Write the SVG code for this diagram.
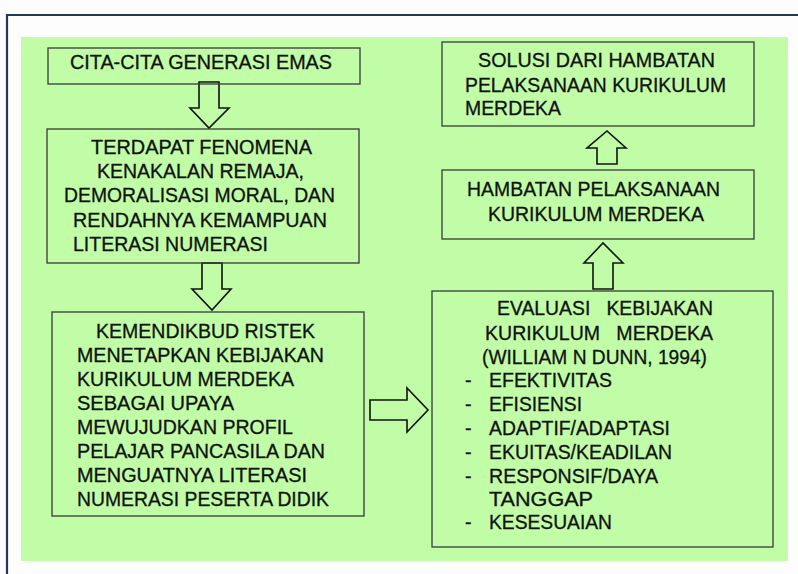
<svg xmlns="http://www.w3.org/2000/svg" width="798" height="574" viewBox="0 0 798 574">
<style>
.box{fill:none;stroke:#3a3a3a;stroke-width:1.3}
.arr{fill:#c1fda6;stroke:#111;stroke-width:1.6;stroke-linejoin:miter}
text{font-family:"Liberation Sans",Arial,sans-serif;font-size:19.5px;fill:#111;stroke:#111;stroke-width:0.3}
</style>
<rect x="0" y="0" width="798" height="574" fill="#fdfdfd"/>
<path d="M7,574 V15 H798" fill="none" stroke="#24395a" stroke-width="2.2"/>
<rect x="21" y="37" width="767" height="524" fill="#c1fda6"/>
<g id="connectors">
<path class="arr" d="M199,82 H219 V108 H229 L209,128 L190,108 H199 Z"/>
<path class="arr" d="M202,263 H222 V289 H231 L212,310 L192,289 H202 Z"/>
<path class="arr" d="M370,400 H407 V388 L428,410 L407,432 V420 H370 Z"/>
<path class="arr" d="M597,164 V148 H587 L607,131 L626,148 H617 V164 Z"/>
<path class="arr" d="M593,289 V263 H584 L603,243 L623,263 H613 V289 Z"/>
</g>
<g id="n1">
<rect class="box" x="48" y="48" width="312" height="36"/>
<text x="70" y="69" textLength="262" lengthAdjust="spacingAndGlyphs">CITA-CITA GENERASI EMAS</text>
</g>
<g id="n2">
<rect class="box" x="47" y="129" width="312" height="134"/>
<text x="91" y="154" textLength="221" lengthAdjust="spacingAndGlyphs">TERDAPAT FENOMENA</text>
<text x="97" y="178" textLength="207" lengthAdjust="spacingAndGlyphs">KENAKALAN REMAJA,</text>
<text x="64" y="202" textLength="271" lengthAdjust="spacingAndGlyphs">DEMORALISASI MORAL, DAN</text>
<text x="73" y="227" textLength="254" lengthAdjust="spacingAndGlyphs">RENDAHNYA KEMAMPUAN</text>
<text x="73" y="251" textLength="195" lengthAdjust="spacingAndGlyphs">LITERASI NUMERASI</text>
</g>
<g id="n3">
<rect class="box" x="52" y="312" width="312" height="204"/>
<text x="96" y="338" textLength="219" lengthAdjust="spacingAndGlyphs">KEMENDIKBUD RISTEK</text>
<text x="77" y="362" textLength="247" lengthAdjust="spacingAndGlyphs">MENETAPKAN KEBIJAKAN</text>
<text x="77" y="386" textLength="217" lengthAdjust="spacingAndGlyphs">KURIKULUM MERDEKA</text>
<text x="77" y="410" textLength="157" lengthAdjust="spacingAndGlyphs">SEBAGAI UPAYA</text>
<text x="77" y="434" textLength="216" lengthAdjust="spacingAndGlyphs">MEWUJUDKAN PROFIL</text>
<text x="77" y="458" textLength="248" lengthAdjust="spacingAndGlyphs">PELAJAR PANCASILA DAN</text>
<text x="77" y="482" textLength="230" lengthAdjust="spacingAndGlyphs">MENGUATNYA LITERASI</text>
<text x="77" y="506" textLength="252" lengthAdjust="spacingAndGlyphs">NUMERASI PESERTA DIDIK</text>
</g>
<g id="n4">
<rect class="box" x="432" y="291" width="341" height="256"/>
<text x="497" y="315" textLength="216" lengthAdjust="spacingAndGlyphs" xml:space="preserve">EVALUASI   KEBIJAKAN</text>
<text x="485" y="340" textLength="228" lengthAdjust="spacingAndGlyphs" xml:space="preserve">KURIKULUM   MERDEKA</text>
<text x="482" y="364" textLength="225" lengthAdjust="spacingAndGlyphs">(WILLIAM N DUNN, 1994)</text>
<text x="465" y="387">-</text><text x="489" y="387" textLength="123" lengthAdjust="spacingAndGlyphs">EFEKTIVITAS</text>
<text x="465" y="411">-</text><text x="489" y="411" textLength="93" lengthAdjust="spacingAndGlyphs">EFISIENSI</text>
<text x="465" y="435">-</text><text x="489" y="435" textLength="181" lengthAdjust="spacingAndGlyphs">ADAPTIF/ADAPTASI</text>
<text x="465" y="459">-</text><text x="489" y="459" textLength="183" lengthAdjust="spacingAndGlyphs">EKUITAS/KEADILAN</text>
<text x="465" y="483">-</text><text x="489" y="483" textLength="169" lengthAdjust="spacingAndGlyphs">RESPONSIF/DAYA</text>
<text x="489" y="506" textLength="104" lengthAdjust="spacingAndGlyphs">TANGGAP</text>
<text x="465" y="529">-</text><text x="489" y="529" textLength="123" lengthAdjust="spacingAndGlyphs">KESESUAIAN</text>
</g>
<g id="n5">
<rect class="box" x="442" y="170" width="312" height="69"/>
<text x="467" y="196" textLength="253" lengthAdjust="spacingAndGlyphs">HAMBATAN PELAKSANAAN</text>
<text x="488" y="221" textLength="216" lengthAdjust="spacingAndGlyphs">KURIKULUM MERDEKA</text>
</g>
<g id="n6">
<rect class="box" x="442" y="42" width="312" height="84"/>
<text x="478" y="67" textLength="237" lengthAdjust="spacingAndGlyphs">SOLUSI DARI HAMBATAN</text>
<text x="465" y="92" textLength="261" lengthAdjust="spacingAndGlyphs">PELAKSANAAN KURIKULUM</text>
<text x="465" y="115" textLength="96" lengthAdjust="spacingAndGlyphs">MERDEKA</text>
</g>
</svg>
